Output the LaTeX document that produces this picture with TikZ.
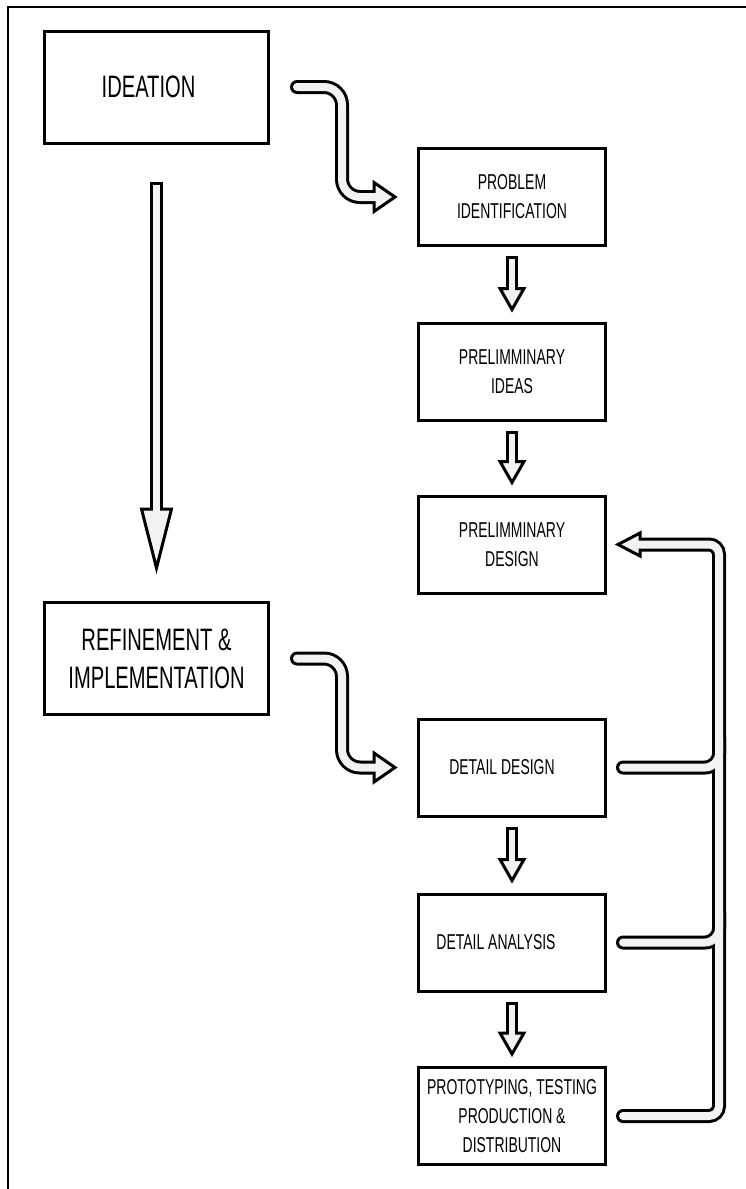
\documentclass[tikz,border=0pt]{standalone}
\usepackage{fontspec}
\newfontfamily\stagefont[FakeStretch=0.65]{Liberation Sans}
\usetikzlibrary{calc}
\definecolor{pipegray}{RGB}{242,242,242}
\tikzset{
	stage/.style={draw, line width=3pt, minimum width=187pt, minimum height=97pt,
			inner sep=0pt, align=center, font=\fontsize{21.5}{29}\selectfont\stagefont},
	phase/.style={stage, minimum width=224pt, minimum height=112pt,
			font=\fontsize{31}{38}\selectfont\stagefont},
	stagetext/.style={font=\fontsize{21.5}{29}\selectfont\stagefont},
	phasetext/.style={font=\fontsize{31}{38}\selectfont\stagefont},
	pipeout/.style={line width=14pt, black, line cap=round},
	pipein/.style={line width=8pt, pipegray, line cap=round},
	stemout/.style={line width=12pt, black},
	stemin/.style={line width=6pt, pipegray},
	fathead/.style={draw=black, fill=pipegray, line width=3pt, line join=miter}
}
% S-shaped fat arrow from one box to the next
\newcommand{\bendarrow}[2]{
	\coordinate (s) at ($(#1.east)+(27,0)$);
	\coordinate (t) at ($(#2.west)+(-19,0)$);
	\draw[pipeout, rounded corners=18pt] (s) -| ($(t)+(-56,0)$) -- ($(t)+(-19,0)$);
	\draw[fathead] ($(t)+(-24,-14.5)$) -- ($(t)+(-3,0)$) -- ($(t)+(-24,14.5)$) -- cycle;
	\draw[pipein, rounded corners=18pt] (s) -| ($(t)+(-56,0)$) -- ($(t)+(-19,0)$);
}

\begin{document}
\begin{tikzpicture}[x=1pt, y=-1pt]
	\useasboundingbox (0,0) rectangle (746,1189);
	\draw[line width=1.5pt] (746,7) -- (8,7) -- (8,1189);

	% phases
	\node[phase, label={[phasetext, xshift=-8pt]center:IDEATION}] (ideation) at (156.5,87) {};
	\node[phase] (refine) at (156.5,658.5) {REFINEMENT \&\\IMPLEMENTATION};

	% stages
	\node[stage] (problem) at (512,197) {PROBLEM\\IDENTIFICATION};
	\node[stage] (ideas) at (512,371.5) {PRELIMMINARY\\IDEAS};
	\node[stage] (design) at (512,544.5) {PRELIMMINARY\\DESIGN};
	\node[stage, label={[stagetext, xshift=-10pt]center:DETAIL DESIGN}] (detail) at (512,767.5) {};
	\node[stage, label={[stagetext, xshift=-16pt]center:DETAIL ANALYSIS}] (analysis) at (512,942.5) {};
	\node[stage] (proto) at (512,1116) {PROTOTYPING, TESTING\\PRODUCTION \&\\DISTRIBUTION};

	% long arrow between the phases
	\coordinate (ltop) at ($(ideation.south)+(0,37)$);
	\coordinate (ltip) at ($(refine.north)+(0,-26)$);
	\draw[line width=13pt] (ltop) -- ($(ltip)+(0,-62)$);
	\draw[fathead] ($(ltip)+(-15,-66)$) -- ($(ltip)+(0,-7)$) -- ($(ltip)+(15,-66)$) -- cycle;
	\draw[line width=7pt, pipegray] ($(ltop)+(0,3)$) -- ($(ltip)+(0,-62)$);

	% phase to stage
	\bendarrow{ideation}{problem}
	\bendarrow{refine}{detail}

	% stage to stage
	\foreach \a/\b in {problem/ideas, ideas/design, detail/analysis, analysis/proto} {
		\coordinate (top) at ($(\a.south)+(0,9)$);
		\coordinate (tip) at ($(\b.north)+(0,-9)$);
		\draw[stemout] (top) -- ($(tip)+(0,-20)$);
		\draw[fathead] ($(tip)+(-12,-24)$) -- ($(tip)+(0,-3)$) -- ($(tip)+(12,-24)$) -- cycle;
		\draw[stemin] ($(top)+(0,3)$) -- ($(tip)+(0,-20)$);
	}

	% feedback
	\coordinate (fbtip) at ($(design.east)+(8,0)$);
	\draw[pipeout, rounded corners=10pt] ($(proto.east)+(16,0)$) -| ($(design.east)+(112,0)$) -- ($(design.east)+(28,0)$);
	\draw[pipeout, rounded corners=14pt] ($(detail.east)+(16,0)$) -- ($(detail.east)+(112,0)$) -- ($(detail.east)+(112,-30)$);
	\draw[pipeout, rounded corners=14pt] ($(analysis.east)+(16,0)$) -- ($(analysis.east)+(112,0)$) -- ($(analysis.east)+(112,-30)$);
	\draw[fathead] ($(fbtip)+(25,-11.5)$) -- ($(fbtip)+(3,0)$) -- ($(fbtip)+(25,11.5)$) -- cycle;
	\draw[pipein, rounded corners=10pt] ($(proto.east)+(16,0)$) -| ($(design.east)+(112,0)$) -- ($(design.east)+(28,0)$);
	\draw[pipein, rounded corners=14pt] ($(detail.east)+(16,0)$) -- ($(detail.east)+(112,0)$) -- ($(detail.east)+(112,-30)$);
	\draw[pipein, rounded corners=14pt] ($(analysis.east)+(16,0)$) -- ($(analysis.east)+(112,0)$) -- ($(analysis.east)+(112,-30)$);
\end{tikzpicture}
\end{document}
